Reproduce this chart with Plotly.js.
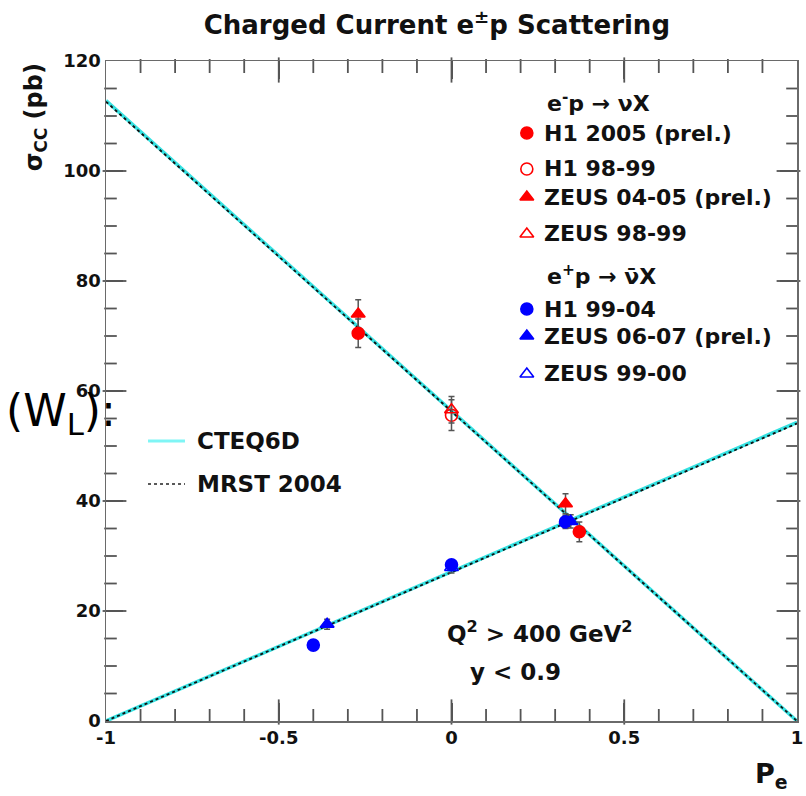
<!DOCTYPE html>
<html>
<head>
<meta charset="utf-8">
<script src="https://cdn.plot.ly/plotly-3.0.1.min.js"></script>
<style>html,body{margin:0;padding:0;background:#fff;}#plot{width:806px;height:796px;}</style>
</head>
<body>
<div id="plot"></div>
<script>
// ---- data ----
const P_LINE = [-1, 1];
const CTEQ_EM = [112.8, 0];
const CTEQ_EP = [0, 54.3];
const MRST_EM = [112.6, 0];
const MRST_EP = [0, 54.1];

const P_H1_2005 = [-0.27, 0.37];
const S_H1_2005 = [70.5, 34.4];
const E_H1_2005 = [2.6, 1.8];

const P_H1_9899 = [0.0];
const S_H1_9899 = [55.6];
const E_H1_9899 = [2.8];

const P_ZEUS_0405 = [-0.27, 0.33];
const S_ZEUS_0405 = [74.0, 39.5];
const E_ZEUS_0405 = [2.6, 1.8];

const P_ZEUS_9899 = [0.0];
const S_ZEUS_9899 = [56.6];
const E_ZEUS_9899 = [2.4];

const P_H1_9904 = [-0.40, 0.0, 0.33];
const S_H1_9904 = [13.8, 28.4, 36.2];
const E_H1_9904 = [0.9, 0.9, 1.2];

const P_ZEUS_0607 = [-0.36, 0.345];
const S_ZEUS_0607 = [17.6, 36.3];
const E_ZEUS_0607 = [0.9, 1.2];

const P_ZEUS_9900 = [0.0];
const S_ZEUS_9900 = [27.9];
const E_ZEUS_9900 = [1.0];

const X_TICKS = [-1, -0.5, 0, 0.5, 1];
const X_TICKTEXT = ['-1', '-0.5', '0', '0.5', '1'];
const Y_TICKS = [0, 20, 40, 60, 80, 100, 120];
const Y_TICKTEXT = ['0', '20', '40', '60', '80', '100', '120'];
const X_MINOR_STEP = 0.1;
const Y_MINOR_STEP = 5;

const LEG_NAMES = ['H1 2005 (prel.)', 'H1 98-99', 'ZEUS 04-05 (prel.)', 'ZEUS 98-99',
                   'H1 99-04', 'ZEUS 06-07 (prel.)', 'ZEUS 99-00'];
const LEG_HEADERS = ['e<sup>-</sup>p \u2192 \u03bdX', 'e<sup>+</sup>p \u2192 \u03bd\u0304X'];

// ---- style ----
const RED = '#ff0000', BLUE = '#0000ff', CYAN = '#35e2e2';
const FONT = 'DejaVu Sans';
const AXC = '#555555';
const ERRC = '#555555';
const XR = [-1, 1], YR = [0, 120];
const PLOT_W = 691, PLOT_H = 660;
const fx = (f) => XR[0] + f * (XR[1] - XR[0]);
const fy = (f) => YR[0] + f * (YR[1] - YR[0]);
const pxX = (p) => p / PLOT_W * (XR[1] - XR[0]);
const pxY = (p) => p / PLOT_H * (YR[1] - YR[0]);

function pts(x, y, e, color, symbol) {
  return {
    x: x, y: y, type: 'scatter', mode: 'markers', showlegend: false,
    marker: {color: color, symbol: symbol, size: 12, line: {color: color, width: 1.6}},
    error_y: {type: 'data', array: e, visible: true, color: ERRC, thickness: 1.5, width: 3}
  };
}

// ---- tick marks on all four sides (ROOT style, inward), drawn as line markers ----
const traces = [];
function tickMarks(xs, ys, symbol, len) {
  traces.push({x: xs, y: ys, type: 'scatter', mode: 'markers', showlegend: false, hoverinfo: 'skip',
    cliponaxis: false, marker: {symbol: symbol, size: len, color: AXC, line: {color: AXC, width: 1.8}}});
}
const nx = Math.round((XR[1] - XR[0]) / X_MINOR_STEP);
const xMajB = [], xMajT = [], xMinB = [], xMinT = [];
for (let i = 1; i < nx; i++) {
  const v = XR[0] + i * X_MINOR_STEP;
  (X_TICKS.some(t => Math.abs(t - v) < 1e-6) ? xMajB : xMinB).push(v);
}
tickMarks(xMajB, xMajB.map(() => YR[0] + pxY(9)), 'line-ns', 18);
tickMarks(xMajB, xMajB.map(() => YR[1] - pxY(9)), 'line-ns', 18);
tickMarks(xMinB, xMinB.map(() => YR[0] + pxY(5)), 'line-ns', 10);
tickMarks(xMinB, xMinB.map(() => YR[1] - pxY(5)), 'line-ns', 10);
const ny = Math.round((YR[1] - YR[0]) / Y_MINOR_STEP);
const yMaj = [], yMin = [];
for (let i = 1; i < ny; i++) {
  const v = YR[0] + i * Y_MINOR_STEP;
  (Y_TICKS.some(t => Math.abs(t - v) < 1e-6) ? yMaj : yMin).push(v);
}
tickMarks(yMaj.map(() => XR[0] + pxX(8.5)), yMaj, 'line-ew', 17);
tickMarks(yMaj.map(() => XR[1] - pxX(8.5)), yMaj, 'line-ew', 17);
tickMarks(yMin.map(() => XR[0] + pxX(4.5)), yMin, 'line-ew', 9);
tickMarks(yMin.map(() => XR[1] - pxX(4.5)), yMin, 'line-ew', 9);

traces.push(
  {x: P_LINE, y: CTEQ_EM, type: 'scatter', mode: 'lines', showlegend: false, line: {color: CYAN, width: 3.5}},
  {x: P_LINE, y: CTEQ_EP, type: 'scatter', mode: 'lines', showlegend: false, line: {color: CYAN, width: 3.5}},
  {x: P_LINE, y: MRST_EM, type: 'scatter', mode: 'lines', showlegend: false, line: {color: '#111', width: 1.8, dash: 'dot'}},
  {x: P_LINE, y: MRST_EP, type: 'scatter', mode: 'lines', showlegend: false, line: {color: '#111', width: 1.8, dash: 'dot'}},
  pts(P_ZEUS_9900, S_ZEUS_9900, E_ZEUS_9900, BLUE, 'triangle-up-open'),
  pts(P_H1_9904, S_H1_9904, E_H1_9904, BLUE, 'circle'),
  pts(P_ZEUS_0607, S_ZEUS_0607, E_ZEUS_0607, BLUE, 'triangle-up'),
  pts(P_H1_9899, S_H1_9899, E_H1_9899, RED, 'circle-open'),
  pts(P_ZEUS_9899, S_ZEUS_9899, E_ZEUS_9899, RED, 'triangle-up-open'),
  pts(P_ZEUS_0405, S_ZEUS_0405, E_ZEUS_0405, RED, 'triangle-up'),
  pts(P_H1_2005, S_H1_2005, E_H1_2005, RED, 'circle')
);

// legend samples (positions given as plot fractions)
const legY = [0.8909, 0.8364, 0.7939, 0.7379, 0.6242, 0.5833, 0.5258];
const legHeadY = [0.9379, 0.6758];
const legSym = ['circle', 'circle-open', 'triangle-up', 'triangle-up-open', 'circle', 'triangle-up', 'triangle-up-open'];
const legCol = [RED, RED, RED, RED, BLUE, BLUE, BLUE];
const legMX = 0.609, legTX = 0.631;
for (let i = 0; i < LEG_NAMES.length; i++) {
  traces.push({x: [fx(legMX)], y: [fy(legY[i])], type: 'scatter', mode: 'markers', showlegend: false,
    hoverinfo: 'skip', marker: {color: legCol[i], symbol: legSym[i], size: 12, line: {color: legCol[i], width: 1.6}}});
}
traces.push({x: [fx(0.0608), fx(0.1143)], y: [fy(0.4242), fy(0.4242)], type: 'scatter', mode: 'lines',
  showlegend: false, hoverinfo: 'skip', line: {color: '#7ff5f5', width: 3}});
traces.push({x: [fx(0.0608), fx(0.1143)], y: [fy(0.3591), fy(0.3591)], type: 'scatter', mode: 'lines',
  showlegend: false, hoverinfo: 'skip', line: {color: '#222', width: 1.6, dash: 'dot'}});

const bf = (s) => ({family: FONT, size: s, color: '#111', weight: 'bold'});
const ann = [];
for (let i = 0; i < LEG_NAMES.length; i++) {
  ann.push({xref: 'paper', yref: 'paper', x: legTX, y: legY[i], xanchor: 'left', yanchor: 'middle',
    text: LEG_NAMES[i], showarrow: false, font: bf(22)});
}
for (let i = 0; i < LEG_HEADERS.length; i++) {
  ann.push({xref: 'paper', yref: 'paper', x: 0.6353, y: legHeadY[i], xanchor: 'left', yanchor: 'middle',
    text: LEG_HEADERS[i], showarrow: false, font: bf(22)});
}
ann.push({xref: 'paper', yref: 'paper', x: 0.1288, y: 0.4242, xanchor: 'left', yanchor: 'middle', text: 'CTEQ6D', showarrow: false, font: bf(23)});
ann.push({xref: 'paper', yref: 'paper', x: 0.1288, y: 0.3591, xanchor: 'left', yanchor: 'middle', text: 'MRST 2004', showarrow: false, font: bf(23)});
ann.push({xref: 'paper', yref: 'paper', x: 0.4906, y: 0.1348, xanchor: 'left', yanchor: 'middle', text: 'Q<sup>2</sup> > 400 GeV<sup>2</sup>', showarrow: false, font: bf(23)});
ann.push({xref: 'paper', yref: 'paper', x: 0.5239, y: 0.0742, xanchor: 'left', yanchor: 'middle', text: 'y < 0.9', showarrow: false, font: bf(23)});
ann.push({xref: 'paper', yref: 'paper', x: 0.99, y: -0.083, xanchor: 'right', yanchor: 'middle', text: 'P<sub>e</sub>', showarrow: false, font: bf(27)});
ann.push({xref: 'paper', yref: 'paper', x: -0.1027, y: 0.915, xanchor: 'center', yanchor: 'middle', textangle: -90,
  text: '\u03c3<sub>CC</sub> (pb)', showarrow: false, font: bf(24)});
ann.push({xref: 'paper', yref: 'paper', x: -0.148, y: 0.466, xanchor: 'left', yanchor: 'middle',
  text: '(W<sub>L</sub>):', showarrow: false, font: {family: FONT, size: 44, color: '#000'}});

const layout = {
  width: 806, height: 796,
  margin: {l: 106, r: 9, t: 61, b: 75},
  paper_bgcolor: '#fff', plot_bgcolor: '#fff',
  showlegend: false,
  title: {text: 'Charged Current e<sup>\u00b1</sup>p Scattering', xref: 'container', yref: 'container',
    x: 0.542, y: 0.969, xanchor: 'center', yanchor: 'middle', font: bf(26)},
  xaxis: {range: XR, tickmode: 'array', tickvals: X_TICKS, ticktext: X_TICKTEXT, ticks: 'inside', ticklen: 18,
    tickwidth: 2, tickcolor: AXC, showline: true, linecolor: '#6a6a6a', linewidth: 1.5, mirror: 'ticks',
    showgrid: false, zeroline: false, tickfont: bf(18)},
  yaxis: {range: YR, tickmode: 'array', tickvals: Y_TICKS, ticktext: Y_TICKTEXT, ticks: 'inside', ticklen: 17,
    tickwidth: 2, tickcolor: AXC, showline: true, linecolor: '#6a6a6a', linewidth: 1.5, mirror: 'ticks',
    showgrid: false, zeroline: false, tickfont: bf(18)},
  annotations: ann
};

Plotly.newPlot('plot', traces, layout, {staticPlot: true});
</script>
</body>
</html>
